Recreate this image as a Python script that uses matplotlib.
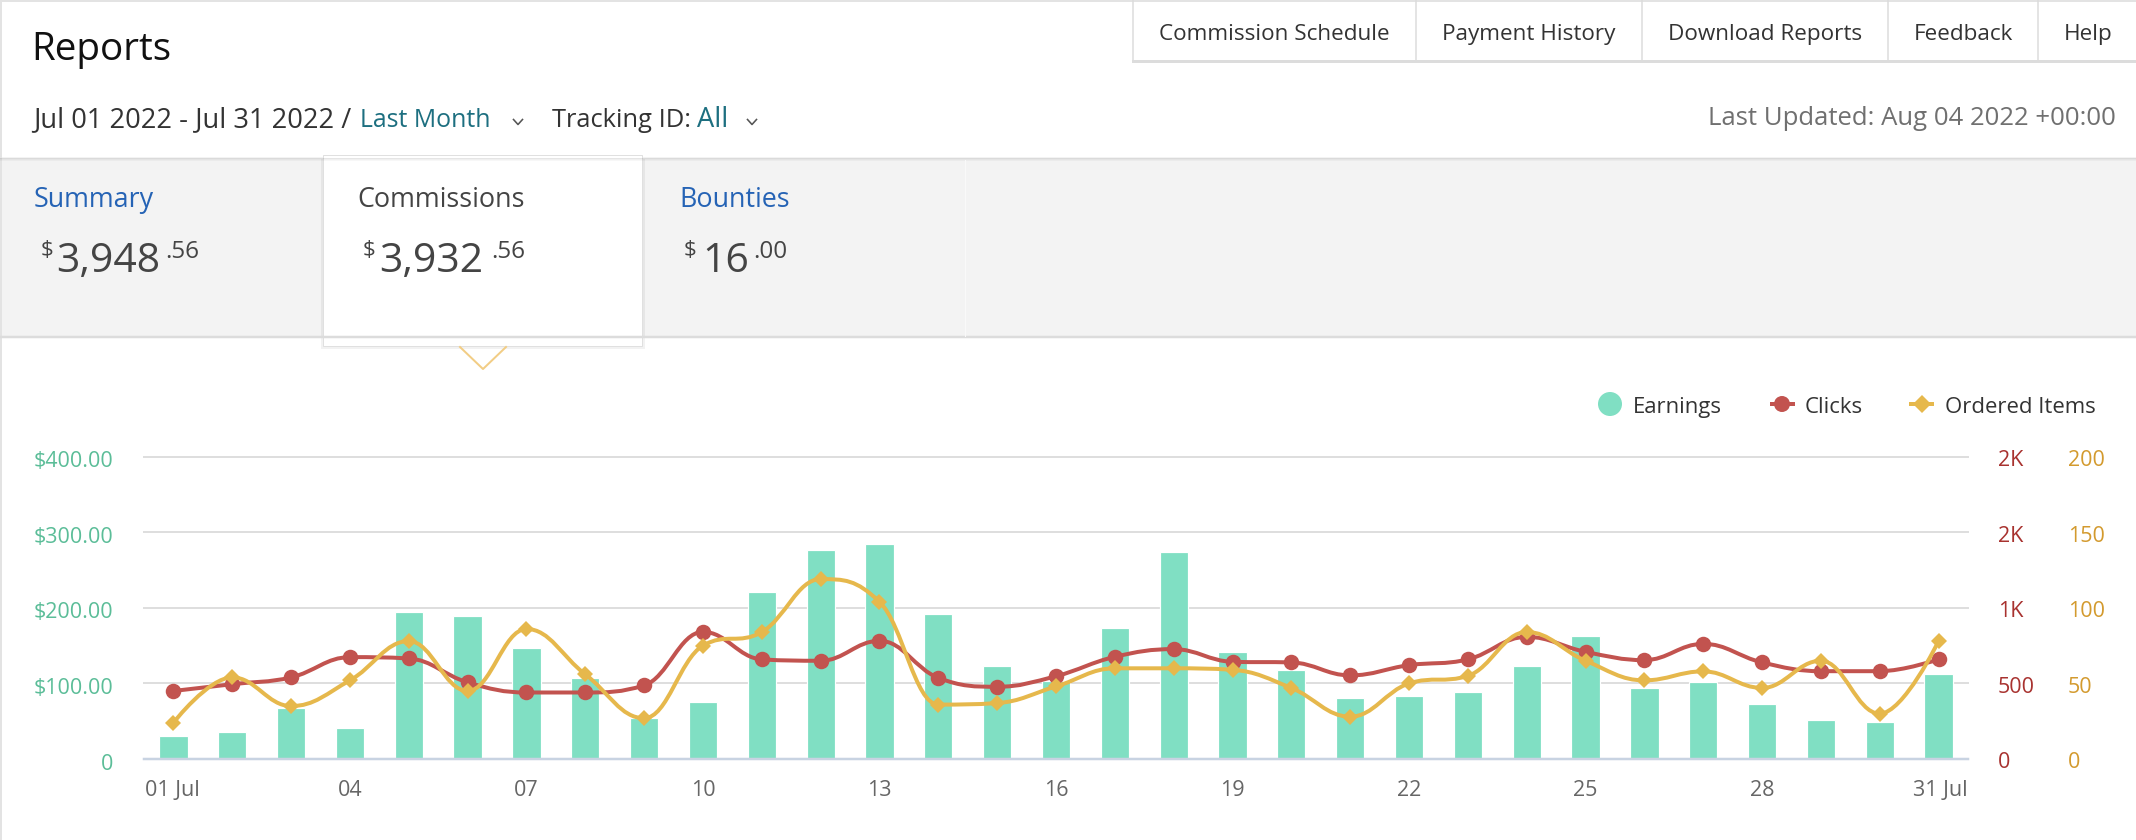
import matplotlib
matplotlib.use('Agg')
import matplotlib.pyplot as plt
import matplotlib.transforms as mtransforms
from matplotlib.patches import Rectangle, Circle, Polygon, PathPatch
from matplotlib.path import Path
import numpy as np

FONT = 'Open Sans'
plt.rcParams['font.family'] = [FONT, 'DejaVu Sans']

# ---------------- data ----------------
days = list(range(1, 32))
earnings = [30, 36, 68, 41, 194, 189, 147, 107, 54, 75, 221, 276, 284, 192, 123, 103,
            173, 274, 141, 118, 81, 83, 88, 123, 163, 94, 102, 73, 52, 49, 112]
clicks = [450, 495, 540, 674, 665, 507, 440, 440, 487, 841, 659, 650, 782, 537, 478, 548,
          676, 727, 643, 639, 553, 621, 659, 808, 709, 654, 762, 639, 581, 581, 659]
ordered_items = [24, 54, 35, 52, 78, 45, 86, 56, 27, 75, 84, 119, 104, 36, 37, 48,
                 60, 60, 59, 47, 28, 50, 55, 84, 65, 52, 58, 47, 65, 30, 78]

earn_ticks = [0, 100, 200, 300, 400]
earn_labels = ['0', '$100.00', '$200.00', '$300.00', '$400.00']
click_ticks = [0, 500, 1000, 1500, 2000]
click_labels = ['0', '500', '1K', '2K', '2K']
item_ticks = [0, 50, 100, 150, 200]
item_labels = ['0', '50', '100', '150', '200']
x_label_days = [1, 4, 7, 10, 13, 16, 19, 22, 25, 28, 31]
x_labels = ['01 Jul', '04', '07', '10', '13', '16', '19', '22', '25', '28', '31 Jul']

tab_labels = ['Commission Schedule', 'Payment History', 'Download Reports', 'Feedback', 'Help']
card_titles = ['Summary', 'Commissions', 'Bounties']
card_whole = ['3,948', '3,932', '16']
card_cents = ['.56', '.56', '.00']
legend_labels = ['Earnings', 'Clicks', 'Ordered Items']

# ---------------- colours ----------------
C_BAR = '#80dfc3'
C_RED = '#c2534f'
C_YEL = '#e6b84c'
C_LEFT = '#5bbd98'
C_REDLBL = '#a8322f'
C_YELLBL = '#d39a2e'
C_XLBL = '#666666'
C_GRID = '#dedede'
C_AXIS = '#c8d3e2'
C_BLUE = '#2563b5'
C_TEAL = '#1d6f80'
C_DARK = '#333333'

W, H = 2136, 840
fig = plt.figure(figsize=(W / 100, H / 100), dpi=100)
fig.patch.set_facecolor('white')
ui = fig.add_axes([0, 0, 1, 1])
ui.set_xlim(0, W)
ui.set_ylim(H, 0)
ui.axis('off')
ui.set_zorder(0)
renderer = fig.canvas.get_renderer()


def px(v):
    return v * 0.72


def fit_size(s, size, width):
    t = ui.text(0, 0, s, fontsize=size)
    w = t.get_window_extent(renderer).width
    t.remove()
    return size * width / w


def put(x, y, s, size, color, ha='left', va='baseline', **kw):
    return ui.text(x, y, s, fontsize=size, color=color, ha=ha, va=va, **kw)


# page borders
ui.plot([0, W], [1, 1], color='#e3e3e3', lw=px(2))
ui.plot([1, 1], [0, H], color='#e3e3e3', lw=px(2))

# ---------------- header ----------------
put(31, 60, 'Reports', fit_size('Reports', 24, 141), '#111111')

# tab strip
tab_edges = [1133, 1416, 1642, 1888, 2038, 2160]
ui.add_patch(Rectangle((1133, 0), W - 1133, 62, facecolor='white', edgecolor='none'))
ui.plot([1133, W], [61, 61], color='#dcdcdc', lw=px(3))
for e in tab_edges[:-1]:
    ui.plot([e, e], [0, 61], color='#dcdcdc', lw=px(1.5))
tab_size = fit_size('Commission Schedule', 15, 230)
for i, lab in enumerate(tab_labels):
    cx = (tab_edges[i] + min(tab_edges[i + 1], 2138)) / 2
    put(cx, 40, lab, tab_size, C_DARK, ha='center')

# date row
put(33, 127, 'Jul 01 2022 - Jul 31 2022 /', fit_size('Jul 01 2022 - Jul 31 2022 /', 15, 316), C_DARK)
put(360, 127, 'Last Month', fit_size('Last Month', 15, 131), C_TEAL)
put(552, 127, 'Tracking ID:', fit_size('Tracking ID:', 15, 139), C_DARK)
put(697, 127, 'All', fit_size('All', 15, 31), C_TEAL)
for cx in (518, 752):
    ui.plot([cx - 4.5, cx, cx + 4.5], [119.5, 124.5, 119.5], color='#555555', lw=px(1.6))
put(2116, 125, 'Last Updated: Aug 04 2022 +00:00',
    fit_size('Last Updated: Aug 04 2022 +00:00', 15, 409), '#707070', ha='right')

# ---------------- summary band ----------------
ui.add_patch(Rectangle((0, 157), W, 180, facecolor='#f3f3f3', edgecolor='none'))
for k, a in enumerate([0.10, 0.06, 0.03]):
    ui.plot([0, W], [157.5 + k, 157.5 + k], color='black', alpha=a, lw=px(1))
ui.plot([0, W], [337, 337], color='#dcdcdc', lw=px(2.5))
ui.plot([965, 965], [160, 336], color='#f9f9f9', lw=px(1))
# selected card
ui.add_patch(Rectangle((321, 159), 324, 190, facecolor='black', alpha=0.05, edgecolor='none'))
ui.add_patch(Rectangle((323, 155), 319, 191, facecolor='white', edgecolor='#e0e0e0', lw=px(1)))
ui.plot([460, 483, 506], [347, 369, 347], color='#f2cd85', lw=px(2))

title_size = fit_size('Commissions', 20, 167)
big_size = fit_size('3,932', 30, 104)
small_size = fit_size('.56', 15, 34)
dollar_size = small_size * 0.92
card_x = [(34, 41, 56, 165), (357, 363, 379, 491), (679, 684, 702, 753)]
card_colors = [C_BLUE, '#444444', C_BLUE]
for i in range(3):
    tx, dx, wx, cx = card_x[i]
    put(tx, 207, card_titles[i], title_size, card_colors[i])
    put(dx, 256, '$', dollar_size, '#444444')
    put(wx, 272, card_whole[i], big_size, '#444444')
    put(cx, 258, card_cents[i], small_size, '#444444')

# ---------------- legend ----------------
leg_size = fit_size('Earnings', 17, 89)
ui.add_patch(Circle((1610, 404), 12, facecolor=C_BAR, edgecolor='none'))
put(1633, 413, legend_labels[0], leg_size, C_DARK)
ui.plot([1770, 1795], [404, 404], color=C_RED, lw=px(4), solid_capstyle='butt')
ui.add_patch(Circle((1782, 404), 8, facecolor=C_RED, edgecolor='none'))
put(1805, 413, legend_labels[1], leg_size, C_DARK)
ui.plot([1909, 1934], [404, 404], color=C_YEL, lw=px(4), solid_capstyle='butt')
ui.add_patch(Polygon([(1922, 395), (1931, 404), (1922, 413), (1913, 404)],
                     closed=True, facecolor=C_YEL, edgecolor='none'))
put(1945, 413, legend_labels[2], leg_size, C_DARK)

# ---------------- chart ----------------
L, R, B, T = 144, 1968, 759, 456.7
ax = fig.add_axes([L / W, (H - B) / H, (R - L) / W, (B - T) / H])
ax2 = ax.twinx()
ax3 = ax.twinx()
for k, a in enumerate((ax, ax2, ax3)):
    a.set_zorder(1 + k)
    a.patch.set_visible(False)
    for sp in a.spines.values():
        sp.set_visible(False)
    a.set_xticks([])
    a.set_yticks([])

x = np.arange(len(days))
ax.set_xlim(-0.5, len(days) - 0.5)
ax.set_ylim(earn_ticks[0], earn_ticks[-1])
ax2.set_ylim(click_ticks[0], click_ticks[-1])
ax3.set_ylim(item_ticks[0], item_ticks[-1])

for v in earn_ticks[1:]:
    ax.axhline(v, color=C_GRID, lw=px(2), zorder=0, clip_on=False)
ax.bar(x, earnings, width=0.48, color=C_BAR, edgecolor='white', linewidth=px(1.2), zorder=2)
ax.axhline(0, color=C_AXIS, lw=px(2.5), zorder=3, clip_on=False)


def spline_path(xs, ys):
    n = len(xs)
    sm = 1.5
    den = sm + 1
    lc = [None] * n
    rc = [None] * n
    for i in range(n):
        xi, yi = xs[i], ys[i]
        if i == 0 or i == n - 1:
            lc[i] = (xi, yi)
            rc[i] = (xi, yi)
            continue
        lx, ly = xs[i - 1], ys[i - 1]
        nx, ny = xs[i + 1], ys[i + 1]
        lcx = (sm * xi + lx) / den
        lcy = (sm * yi + ly) / den
        rcx = (sm * xi + nx) / den
        rcy = (sm * yi + ny) / den
        if rcx != lcx:
            corr = ((rcy - lcy) * (rcx - xi)) / (rcx - lcx) + yi - rcy
            lcy += corr
            rcy += corr
        if lcy > ly and lcy > yi:
            lcy = max(ly, yi); rcy = 2 * yi - lcy
        elif lcy < ly and lcy < yi:
            lcy = min(ly, yi); rcy = 2 * yi - lcy
        if rcy > ny and rcy > yi:
            rcy = max(ny, yi); lcy = 2 * yi - rcy
        elif rcy < ny and rcy < yi:
            rcy = min(ny, yi); lcy = 2 * yi - rcy
        lc[i] = (lcx, lcy)
        rc[i] = (rcx, rcy)
    verts = [(xs[0], ys[0])]
    codes = [Path.MOVETO]
    for i in range(1, n):
        verts += [rc[i - 1], lc[i], (xs[i], ys[i])]
        codes += [Path.CURVE4] * 3
    return Path(verts, codes)


ax2.add_patch(PathPatch(spline_path(list(x), clicks), facecolor='none', edgecolor=C_RED,
                        lw=px(4), zorder=3, clip_on=False))
ax2.plot(x, clicks, linestyle='none', marker='o', markersize=px(15.5), color=C_RED,
         markeredgewidth=0, zorder=4, clip_on=False)
ax3.add_patch(PathPatch(spline_path(list(x), ordered_items), facecolor='none', edgecolor=C_YEL,
                        lw=px(4), zorder=3, clip_on=False))
ax3.plot(x, ordered_items, linestyle='none', marker='D', markersize=px(12), color=C_YEL,
         markeredgewidth=0, zorder=4, clip_on=False)

# axis labels
lbl_size = fit_size('$400.00', 14, 80)
tr_left = mtransforms.offset_copy(mtransforms.blended_transform_factory(ui.transData, ax.transData),
                                  fig=fig, y=-5, units='dots')
for v, s in zip(earn_ticks, earn_labels):
    ui.text(113, v, s, transform=tr_left, fontsize=lbl_size, color=C_LEFT, ha='right', va='center')
tr_r2 = mtransforms.offset_copy(mtransforms.blended_transform_factory(ui.transData, ax2.transData),
                                fig=fig, y=-4, units='dots')
for v, s in zip(click_ticks, click_labels):
    ui.text(1998, v, s, transform=tr_r2, fontsize=lbl_size, color=C_REDLBL, ha='left', va='center')
tr_r3 = mtransforms.offset_copy(mtransforms.blended_transform_factory(ui.transData, ax3.transData),
                                fig=fig, y=-4, units='dots')
for v, s in zip(item_ticks, item_labels):
    ui.text(2068, v, s, transform=tr_r3, fontsize=lbl_size, color=C_YELLBL, ha='left', va='center')

tr_x = mtransforms.blended_transform_factory(ax.transData, ui.transData)
for d, s in zip(x_label_days, x_labels):
    xi = days.index(d)
    if d == days[0]:
        ui.text(L + 1, 790, s, fontsize=lbl_size, color=C_XLBL, ha='left', va='center')
    elif d == days[-1]:
        ui.text(R, 790, s, fontsize=lbl_size, color=C_XLBL, ha='right', va='center')
    else:
        ui.text(x[xi], 790, s, transform=tr_x, fontsize=lbl_size, color=C_XLBL, ha='center', va='center')

fig.savefig('out.png', dpi=100, facecolor='white')
